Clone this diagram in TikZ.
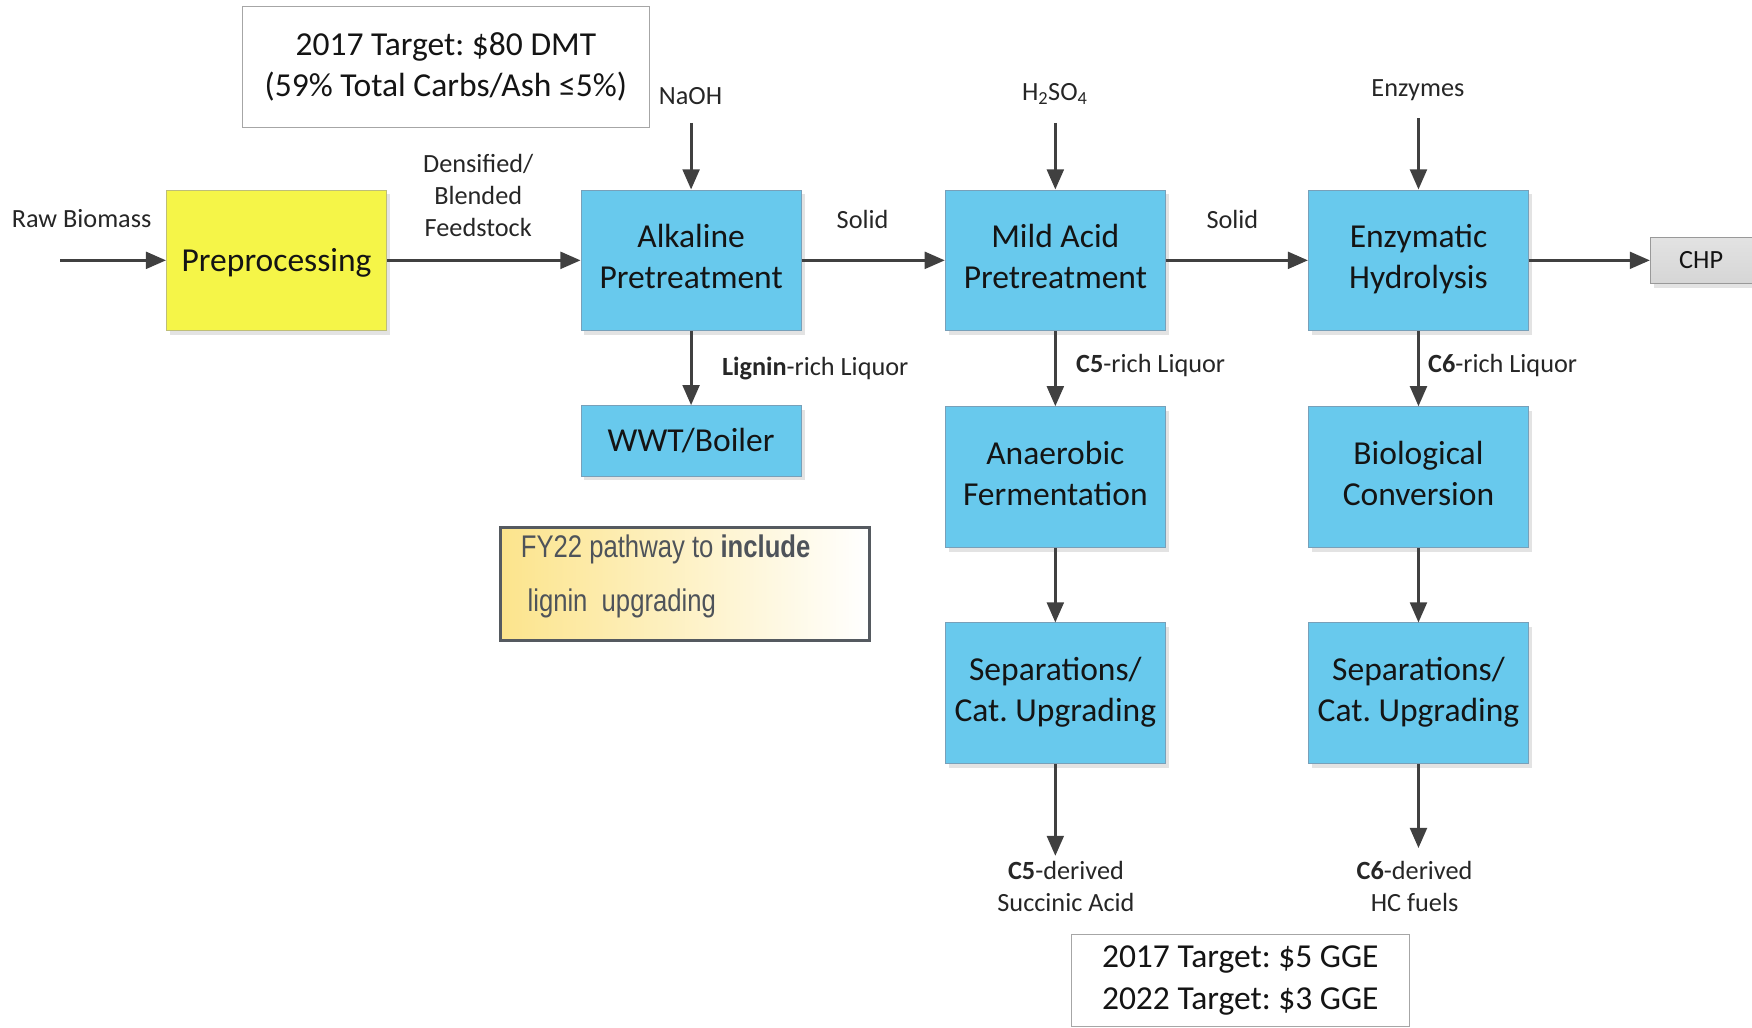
\documentclass[tikz,border=0pt]{standalone}
\usepackage{fontspec}
\setmainfont{Carlito}
\newfontfamily\narrowfont[FakeStretch=0.82]{Liberation Sans}
\usetikzlibrary{arrows.meta,shadows}
\frenchspacing
\definecolor{boxblue}{RGB}{104,201,237}
\definecolor{boxblueline}{RGB}{120,160,185}
\definecolor{boxyellow}{RGB}{245,245,72}
\definecolor{yellowline}{RGB}{190,190,120}
\definecolor{arrgray}{RGB}{64,64,64}
\definecolor{txt}{RGB}{20,20,20}
\definecolor{lbl}{RGB}{38,38,38}
\definecolor{fyline}{RGB}{85,90,96}
\definecolor{fytxt}{RGB}{78,83,90}
\definecolor{fyyellow}{RGB}{252,228,140}
\definecolor{chpgray}{RGB}{214,214,214}
\begin{document}
\begin{tikzpicture}[x=1pt,y=-1pt,
  shd/.style={drop shadow={shadow xshift=3pt,shadow yshift=-4pt,fill=black!18,opacity=0.6}},
  proc/.style={shd,draw=boxblueline,line width=0.8pt,fill=boxblue,minimum width=197pt,minimum height=126pt,
    align=center,text=txt,font=\fontsize{30}{37}\selectfont,inner sep=0pt,
    execute at begin node=\rule{0pt}{27pt}, execute at end node=\rule[-7pt]{0pt}{7pt}},
  lbl/.style={text=lbl,font=\fontsize{23.5}{29}\selectfont,align=center,inner sep=0pt},
  tgt/.style={draw=black!35,line width=0.8pt,fill=white,align=center,text=txt,font=\fontsize{30}{37}\selectfont,inner sep=0pt},
  arr/.style={draw=arrgray,line width=2.6pt,-{Triangle[length=18pt,width=15pt]}}]
\useasboundingbox (0,0) rectangle (1568,920);

% target boxes
\node[tgt,minimum width=364pt,minimum height=108pt] (t1) at (399,60) {2017 Target: \$80 DMT\\(59\% Total Carbs/Ash ≤5\%)};
\node[tgt,minimum width=302pt,minimum height=82pt] (t2) at (1110,877.5) {2017 Target: \$5 GGE\\2022 Target: \$3 GGE};

% process boxes
\node[proc,fill=boxyellow,draw=yellowline] (pre) at (247.5,233) {Preprocessing};
\node[proc] (alk) at (618.5,233) {Alkaline\\Pretreatment};
\node[proc] (mild) at (944.5,233) {Mild Acid\\Pretreatment};
\node[proc] (enz) at (1269.5,233) {Enzymatic\\Hydrolysis};
\node[proc,minimum height=63pt] (wwt) at (618.5,394.5) {WWT/Boiler};
\node[proc] (ana) at (944.5,427) {Anaerobic\\Fermentation};
\node[proc] (sep1) at (944.5,620.5) {Separations/\\Cat. Upgrading};
\node[proc] (bio) at (1269.5,427) {Biological\\Conversion};
\node[proc] (sep2) at (1269.5,620.5) {Separations/\\Cat. Upgrading};
\node[shd,draw=black!40,line width=0.8pt,top color=chpgray!70,bottom color=chpgray,minimum width=100pt,minimum height=41pt,
  text=txt,font=\fontsize{23.5}{29}\selectfont,inner sep=0pt] (chp) at (1527,233) {\hspace*{-9pt}CHP};

% labels
\node[lbl] (lraw) at (73,196) {Raw Biomass};
\node[lbl] (ldens) at (428,175) {Densified/\\Blended\\Feedstock};
\node[lbl] (lnaoh) at (618,86) {NaOH};
\node[lbl] (lh2) at (944,84) {H\textsubscript{2}SO\textsubscript{4}};
\node[lbl] (lenzy) at (1269,81) {Enzymes};
\node[lbl] (ls1) at (772,196) {Solid};
\node[lbl] (ls2) at (1103,196) {Solid};
\node[lbl,anchor=west] (llig) at (646,330) {\textbf{Lignin}-rich Liquor};
\node[lbl,anchor=west] (lc5) at (963,327) {\textbf{C5}-rich Liquor};
\node[lbl,anchor=west] (lc6) at (1278,327) {\textbf{C6}-rich Liquor};
\node[lbl] (lc5d) at (954,793.5) {\textbf{C5}-derived\\Succinic Acid};
\node[lbl] (lc6d) at (1266,793.5) {\textbf{C6}-derived\\HC fuels};

% FY22 note
\node[draw=fyline,line width=3pt,left color=fyyellow,middle color=fyyellow!25,right color=white,
  minimum width=330pt,minimum height=101pt,inner sep=0pt] (fy) at (613,522.5) {};
\node[anchor=west,text=fytxt,font=\narrowfont\fontsize{28}{34}\selectfont,inner sep=0pt] (fy1) at (466,492) {FY22 pathway to \textbf{include}};
\node[anchor=west,text=fytxt,font=\narrowfont\fontsize{28}{34}\selectfont,inner sep=0pt] (fy2) at (472,540) {lignin\ \ upgrading};

% free ends
\coordinate (craw) at (54,233);
\coordinate (cnaoh) at (618.5,110);
\coordinate (ch2) at (944.5,110);
\coordinate (cenzy) at (1269.5,106);
\coordinate (cc5) at (944.5,766);
\coordinate (cc6) at (1269.5,759);

% arrows
\draw[arr] (craw) -- (pre.west);
\draw[arr] (pre.east) -- (alk.west);
\draw[arr] (alk.east) -- (mild.west);
\draw[arr] (mild.east) -- (enz.west);
\draw[arr] (enz.east) -- (chp.west);
\draw[arr] (cnaoh) -- (alk.north);
\draw[arr] (ch2) -- (mild.north);
\draw[arr] (cenzy) -- (enz.north);
\draw[arr] (alk.south) -- (wwt.north);
\draw[arr] (mild.south) -- (ana.north);
\draw[arr] (ana.south) -- (sep1.north);
\draw[arr] (sep1.south) -- (cc5);
\draw[arr] (enz.south) -- (bio.north);
\draw[arr] (bio.south) -- (sep2.north);
\draw[arr] (sep2.south) -- (cc6);
\end{tikzpicture}
\end{document}
